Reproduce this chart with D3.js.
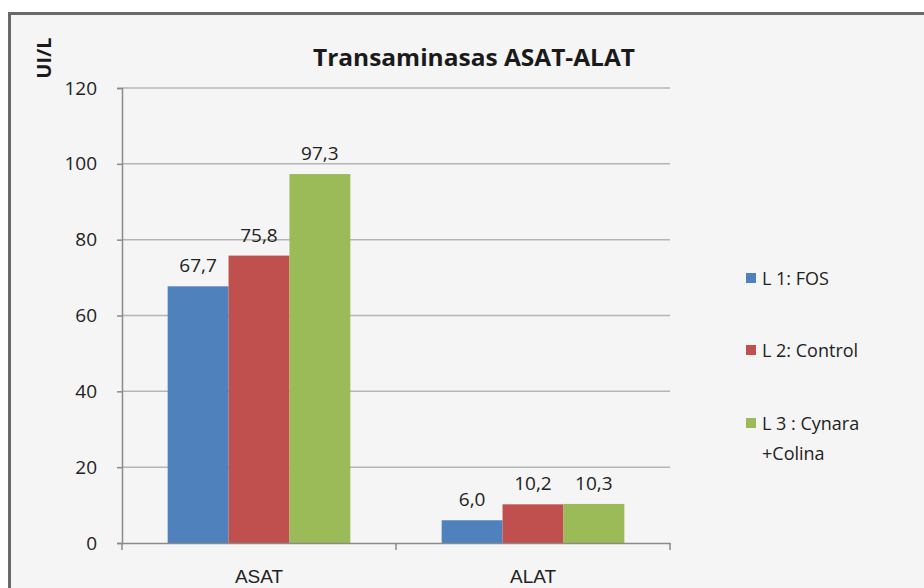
<!DOCTYPE html>
<html>
<head>
<meta charset="utf-8">
<script src="https://cdn.jsdelivr.net/npm/d3@7"></script>
<style>
  body { margin: 0; background: #fff; }
  svg { display: block; }
</style>
</head>
<body>
<svg></svg>
<script>
// datos del gráfico
const categories = ['ASAT', 'ALAT']
const seriesNames = ['L 1: FOS', 'L 2: Control', 'L 3 : Cynara +Colina']
const fos = [67.7, 6.0]
const control = [75.8, 10.2]
const cynara = [97.3, 10.3]
const yTicks = [0, 20, 40, 60, 80, 100, 120]
const colors = ['#4f81bd', '#c0504d', '#9bbb59']

const series = [fos, control, cynara]

let width = 924
let height = 588
let svg = d3.select('svg')
    .attr('width', width)
    .attr('height', height)
    .style('font-family', '"Open Sans", "DejaVu Sans", sans-serif')

// marco del gráfico
svg.append('rect')
    .attr('x', 9.5).attr('y', 13.5)
    .attr('width', 930).attr('height', 600)
    .attr('fill', '#f5f5f5')
    .attr('stroke', '#6a6a6a')
    .attr('stroke-width', 3)

// escalas
let plotLeft = 122, plotRight = 670
let yScale = d3.scaleLinear()
    .domain([0, 120])
    .range([543, 88])
let xScale = d3.scaleBand()
    .domain(categories)
    .range([plotLeft, plotRight])
    .paddingInner(0).paddingOuter(0)
let groupW = xScale.bandwidth() / 1.5
let inner = d3.scaleBand()
    .domain(d3.range(series.length))
    .range([0, groupW])

// líneas de cuadrícula
svg.append('g')
    .selectAll('line').data(yTicks.filter(d => d > 0)).enter()
    .append('line')
    .attr('x1', plotLeft).attr('x2', plotRight)
    .attr('y1', d => yScale(d)).attr('y2', d => yScale(d))
    .attr('stroke', '#b5b5b5')
    .attr('stroke-width', 1.5)

// eje Y
let yAxis = d3.axisLeft(yScale).tickValues(yTicks).tickSize(5).tickPadding(20)
let gy = svg.append('g')
    .attr('transform', 'translate(' + plotLeft + ',0)')
    .call(yAxis)
gy.select('.domain').attr('stroke', '#8a8a8a').attr('stroke-width', 1.5)
gy.selectAll('.tick line').attr('stroke', '#8a8a8a').attr('stroke-width', 1.5)
gy.selectAll('.tick text')
    .attr('font-size', 19).attr('fill', '#222')
    .attr('font-family', '"Open Sans", sans-serif')

// barras
let groups = svg.append('g').selectAll('g').data(categories).enter()
    .append('g')
    .attr('transform', c => 'translate(' + (xScale(c) + (xScale.bandwidth() - groupW) / 2) + ',0)')

groups.selectAll('rect')
    .data((c, ci) => series.map((s, si) => ({ si: si, v: s[ci] })))
    .enter().append('rect')
    .attr('x', d => inner(d.si))
    .attr('width', inner.bandwidth())
    .attr('y', d => yScale(d.v))
    .attr('height', d => yScale(0) - yScale(d.v))
    .attr('fill', d => colors[d.si])

groups.selectAll('text')
    .data((c, ci) => series.map((s, si) => ({ si: si, v: s[ci] })))
    .enter().append('text')
    .attr('x', d => inner(d.si) + inner.bandwidth() / 2)
    .attr('y', d => yScale(d.v) - 14)
    .attr('text-anchor', 'middle')
    .attr('font-size', 19)
    .attr('fill', '#222')
    .text(d => d3.format('.1f')(d.v).replace('.', ','))

// eje X
let xAxis = d3.axisBottom(xScale).tickSize(7).tickPadding(20).tickSizeOuter(0)
let gx = svg.append('g')
    .attr('transform', 'translate(0,' + yScale(0) + ')')
    .call(xAxis)
gx.select('.domain').attr('stroke', '#8a8a8a').attr('stroke-width', 1.5)
gx.selectAll('.tick line').remove()
gx.selectAll('.tick text').attr('font-size', 19).attr('fill', '#222')
// marcas entre categorías
gx.selectAll('.sep').data([plotLeft, (plotLeft + plotRight) / 2, plotRight]).enter()
    .append('line')
    .attr('x1', d => d).attr('x2', d => d)
    .attr('y1', 0).attr('y2', 7)
    .attr('stroke', '#8a8a8a').attr('stroke-width', 1.5)

// título
svg.append('text')
    .attr('x', 474).attr('y', 66)
    .attr('text-anchor', 'middle')
    .attr('font-size', 23)
    .attr('font-weight', 'bold')
    .attr('fill', '#1a1a1a')
    .attr('textLength', 322)
    .attr('lengthAdjust', 'spacingAndGlyphs')
    .attr('font-family', '"Open Sans", sans-serif')
    .text('Transaminasas ASAT-ALAT')

// título eje Y
svg.append('text')
    .attr('transform', 'translate(51,58) rotate(-90)')
    .attr('text-anchor', 'middle')
    .attr('font-size', 20)
    .attr('font-weight', 'bold')
    .attr('fill', '#1a1a1a')
    .text('UI/L')

// leyenda
let legendY = [278, 350, 423]
let legend = svg.append('g').selectAll('g').data(seriesNames).enter()
    .append('g')
    .attr('transform', (d, i) => 'translate(746,' + legendY[i] + ')')
legend.append('rect')
    .attr('x', 0).attr('y', -5)
    .attr('width', 10).attr('height', 10)
    .attr('fill', (d, i) => colors[i])
legend.append('text')
    .attr('x', 16).attr('y', 7)
    .attr('font-size', 18)
    .attr('fill', '#222')
    .each(function (d) {
        let parts = d.split(' +')
        let t = d3.select(this)
        t.append('tspan').text(parts[0])
        if (parts.length > 1) {
            t.append('tspan').attr('x', 16).attr('dy', 30).text('+' + parts[1])
        }
    })
</script>
</body>
</html>
